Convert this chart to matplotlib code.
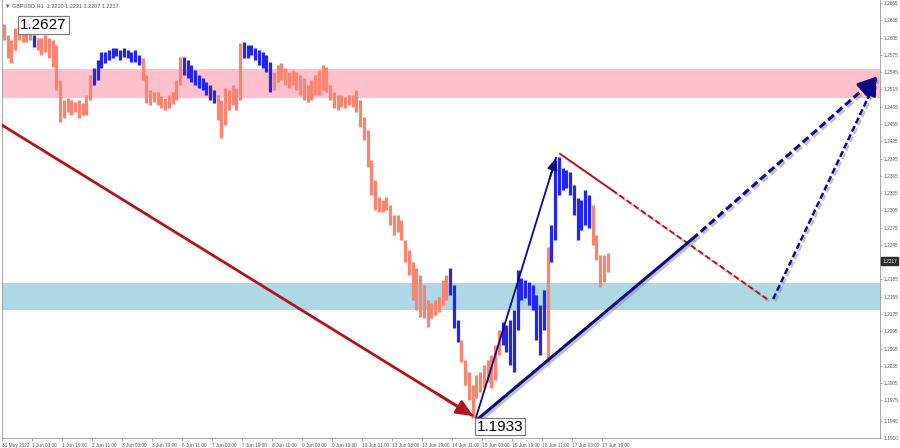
import matplotlib.pyplot as plt
import matplotlib.patheffects as pe
import numpy as np

plt.switch_backend('Agg')

highs = [
    1.2629, 1.2609, 1.2601, 1.2622, 1.2632, 1.2627, 1.2618, 1.2615, 1.2609, 1.2604,
    1.2604, 1.2609, 1.2604, 1.2601, 1.2592, 1.2531, 1.2497, 1.2500, 1.2497, 1.2493,
    1.2497, 1.2491, 1.2505, 1.2540, 1.2552, 1.2566, 1.2580, 1.2580, 1.2584, 1.2587,
    1.2587, 1.2584, 1.2587, 1.2584, 1.2580, 1.2584, 1.2575, 1.2570, 1.2540, 1.2514,
    1.2510, 1.2510, 1.2503, 1.2500, 1.2505, 1.2510, 1.2531, 1.2571, 1.2571, 1.2566,
    1.2557, 1.2549, 1.2540, 1.2535, 1.2528, 1.2523, 1.2514, 1.2505, 1.2497, 1.2518,
    1.2514, 1.2523, 1.2518, 1.2596, 1.2597, 1.2592, 1.2592, 1.2587, 1.2584, 1.2580,
    1.2575, 1.2563, 1.2545, 1.2557, 1.2561, 1.2552, 1.2545, 1.2549, 1.2545, 1.2540,
    1.2535, 1.2523, 1.2531, 1.2540, 1.2549, 1.2557, 1.2554, 1.2523, 1.2510, 1.2505,
    1.2505, 1.2502, 1.2505, 1.2505, 1.2514, 1.2497, 1.2467, 1.2444, 1.2392, 1.2358,
    1.2328, 1.2323, 1.2328, 1.2314, 1.2297, 1.2297, 1.2288, 1.2254, 1.2236, 1.2215,
    1.2205, 1.2193, 1.2175, 1.2149, 1.2144, 1.2149, 1.2155, 1.2184, 1.2193, 1.2205,
    1.2175, 1.2115, 1.2080, 1.2045, 1.2024, 1.2002, 1.2019, 1.2024, 1.2037, 1.2045,
    1.2054, 1.2071, 1.2097, 1.2111, 1.2106, 1.2115, 1.2132, 1.2201, 1.2188, 1.2184,
    1.2181, 1.2175, 1.2158, 1.2141, 1.2167, 1.2242, 1.2280, 1.2392, 1.2398, 1.2379,
    1.2375, 1.2372, 1.2349, 1.2326, 1.2323, 1.2340, 1.2332, 1.2314, 1.2262, 1.2227,
    1.2227, 1.2231,
]
lows = [
    1.2601, 1.2570, 1.2561, 1.2584, 1.2601, 1.2597, 1.2597, 1.2601, 1.2589, 1.2584,
    1.2575, 1.2580, 1.2570, 1.2554, 1.2514, 1.2458, 1.2465, 1.2476, 1.2471, 1.2476,
    1.2465, 1.2471, 1.2471, 1.2497, 1.2523, 1.2531, 1.2552, 1.2561, 1.2566, 1.2570,
    1.2573, 1.2566, 1.2571, 1.2570, 1.2563, 1.2563, 1.2557, 1.2531, 1.2491, 1.2488,
    1.2493, 1.2488, 1.2483, 1.2479, 1.2483, 1.2490, 1.2497, 1.2523, 1.2540, 1.2535,
    1.2528, 1.2523, 1.2518, 1.2514, 1.2505, 1.2497, 1.2491, 1.2462, 1.2431, 1.2453,
    1.2479, 1.2488, 1.2479, 1.2497, 1.2570, 1.2570, 1.2575, 1.2566, 1.2557, 1.2552,
    1.2545, 1.2510, 1.2514, 1.2528, 1.2531, 1.2523, 1.2518, 1.2523, 1.2514, 1.2505,
    1.2497, 1.2493, 1.2497, 1.2505, 1.2505, 1.2514, 1.2510, 1.2497, 1.2483, 1.2479,
    1.2484, 1.2483, 1.2488, 1.2484, 1.2476, 1.2450, 1.2427, 1.2380, 1.2332, 1.2306,
    1.2302, 1.2302, 1.2306, 1.2280, 1.2262, 1.2267, 1.2254, 1.2215, 1.2193, 1.2149,
    1.2132, 1.2120, 1.2118, 1.2102, 1.2118, 1.2123, 1.2129, 1.2141, 1.2149, 1.2158,
    1.2101, 1.2076, 1.2042, 1.2002, 1.1976, 1.1944, 1.1979, 1.1990, 1.1997, 1.2007,
    1.1997, 1.2010, 1.2054, 1.2071, 1.2059, 1.2037, 1.2024, 1.2097, 1.2149, 1.2153,
    1.2141, 1.2132, 1.2080, 1.2054, 1.2097, 1.2042, 1.2215, 1.2254, 1.2332, 1.2340,
    1.2344, 1.2332, 1.2297, 1.2254, 1.2271, 1.2280, 1.2274, 1.2245, 1.2219, 1.2172,
    1.2181, 1.2198,
]
# bar ranges drawn in blue (first, last), the rest are salmon
blue_segments = [(8, 8), (24, 36), (48, 56), (64, 71), (119, 121), (133, 144), (146, 156)]

resistance_zone = (1.2500, 1.2550)
support_zone = (1.2132, 1.2179)

# wave marks and forecast (x in bar numbers, y in price)
wave_down_x, wave_down_y = [-1.0, 125.1], [1.2455, 1.1948]
wave_up_x, wave_up_y = [125.9, 147.2], [1.1946, 1.2396]
trend_x, trend_y = [126.4, 183.5, 233.1], [1.1943, 1.2255, 1.2538]
corr_x, corr_y = [148.3, 162.2, 203.5], [1.2403, 1.2340, 1.2151]
second_x, second_y = [205.1, 232.6], [1.2151, 1.2531]

header = "\u25bc GBPUSD,H1  1.2210 1.2231 1.2207 1.2217"
high_label = "1.2627"
low_label = "1.1933"
last_price = "1.2217"

time_labels = ['31 May 2022', '1 Jun 03:00', '1 Jun 19:00', '2 Jun 11:00', '3 Jun 03:00',
               '3 Jun 19:00', '6 Jun 11:00', '7 Jun 03:00', '7 Jun 19:00', '8 Jun 11:00',
               '9 Jun 03:00', '9 Jun 19:00', '10 Jun 11:00', '13 Jun 03:00', '13 Jun 19:00',
               '14 Jun 11:00', '15 Jun 03:00', '15 Jun 19:00', '16 Jun 11:00', '17 Jun 03:00',
               '17 Jun 19:00']
price_ticks = [1.2665, 1.2635, 1.2605, 1.2575, 1.2545, 1.2515, 1.2485, 1.2455, 1.2425,
               1.2395, 1.2365, 1.2335, 1.2305, 1.2275, 1.2245, 1.2185, 1.2155, 1.2125,
               1.2095, 1.2065, 1.2035, 1.2005, 1.1975, 1.1940, 1.1910]

SALMON = '#F98470'
BLUE = '#2424F2'
DARKRED = '#B3131B'
NAVY = '#0A0A82'
small = dict(fontsize=3.4, color='#555555', family='Liberation Sans')

fig = plt.figure(figsize=(9, 4.48), dpi=100)
ax = fig.add_axes([0.0022, 0.0223, 0.9756, 0.9777])

bars = np.arange(len(highs))
colors = [SALMON] * len(highs)
for a, b in blue_segments:
    for i in range(a, b + 1):
        colors[i] = BLUE

ax.axhspan(*resistance_zone, color='#FFC0CB', lw=0, zorder=0)
ax.axhspan(*support_zone, color='#ADD8E6', lw=0, zorder=0)
ax.vlines(bars, lows, highs, colors=colors, linewidth=2.3, zorder=2)

shadow = [pe.SimpleLineShadow(offset=(1.5, -1.5), shadow_color='#888888', alpha=0.5), pe.Normal()]


def arrow_head(x0, y0, x1, y1, color, lw, hl, hw):
    # short solid arrow at the end of a segment so only the head shows
    sx = x1 - 0.08 * (x1 - x0)
    sy = y1 - 0.08 * (y1 - y0)
    ax.annotate('', xy=(x1, y1), xytext=(sx, sy),
                arrowprops=dict(arrowstyle=f'-|>,head_length={hl},head_width={hw}',
                                color=color, lw=lw, shrinkA=0, shrinkB=0), zorder=5)


# big falling wave
ax.plot(wave_down_x, wave_down_y, color=DARKRED, lw=2.0, zorder=4, solid_capstyle='butt')
arrow_head(wave_down_x[0], wave_down_y[0], wave_down_x[1], wave_down_y[1], DARKRED, 2.0, 1.0, 0.45)

# rising wave from the low
ax.plot(wave_up_x, wave_up_y, color=NAVY, lw=1.3, zorder=4)
arrow_head(wave_up_x[0], wave_up_y[0], wave_up_x[1], wave_up_y[1], NAVY, 1.3, 0.7, 0.3)

# correction forecast, red
ax.plot(corr_x[:2], corr_y[:2], color=DARKRED, lw=1.4, zorder=4)
ax.plot(corr_x[1:], corr_y[1:], color=DARKRED, lw=1.4, dashes=(3, 1.5), zorder=4, path_effects=shadow)

# trend line and forecast, navy
ax.plot(trend_x[:2], trend_y[:2], color=NAVY, lw=2.2, zorder=4, path_effects=shadow)
ax.plot(trend_x[1:], trend_y[1:], color=NAVY, lw=2.2, dashes=(2.5, 1.2), zorder=4, path_effects=shadow)
arrow_head(trend_x[1], trend_y[1], trend_x[2], trend_y[2], NAVY, 2.2, 1.2, 0.5)

ax.plot(second_x, second_y, color=NAVY, lw=1.8, dashes=(2.5, 1.2), zorder=4, path_effects=shadow)
arrow_head(second_x[0], second_y[0], second_x[1], second_y[1], NAVY, 1.8, 0.9, 0.4)

# price labels of the extremes
box = dict(boxstyle='square,pad=0.12', fc='white', ec='#777777', lw=0.8)
i_hi = int(np.argmax(highs))
ax.annotate(high_label, xy=(i_hi, highs[i_hi]), xytext=(1, -2), textcoords='offset points',
            ha='left', va='center', fontsize=11, family='Liberation Sans', bbox=box, zorder=6)
i_lo = int(np.argmin(lows))
ax.annotate(low_label, xy=(i_lo, lows[i_lo]), xytext=(3, -6), textcoords='offset points',
            ha='left', va='center', fontsize=11, family='Liberation Sans', bbox=box, zorder=6)

ax.set_xlim(-0.52, 233.6)
ax.set_ylim(1.19098, 1.26702)

tick_pos = [-0.5 + 8 * k for k in range(len(time_labels))]
ax.set_xticks(tick_pos)
ax.set_xticklabels(time_labels, ha='left', **small)
ax.tick_params(axis='x', length=2, width=0.5, color='#888888', pad=1.5)

ax.yaxis.tick_right()
ax.set_yticks(price_ticks)
ax.set_yticklabels([f'{p:.4f}' for p in price_ticks], **small)
ax.tick_params(axis='y', length=1.5, width=0.5, color='#888888', pad=1.2)

for side in ['left', 'bottom', 'right']:
    ax.spines[side].set_color('#999999')
    ax.spines[side].set_linewidth(0.6)
ax.spines['top'].set_visible(False)

ax.text(0.003, 0.993, header, transform=ax.transAxes, ha='left', va='top',
        fontsize=4, color='#555555', family='Liberation Sans')
ax.annotate(last_price, xy=(1.0, float(last_price)), xycoords=('axes fraction', 'data'),
            xytext=(1.5, 0), textcoords='offset points', ha='left', va='center',
            fontsize=3.4, color='white', family='Liberation Sans',
            bbox=dict(boxstyle='square,pad=0.25', fc='#2b2b2b', ec='#2b2b2b'),
            annotation_clip=False)

fig.savefig('out.png', dpi=100, facecolor='white')
